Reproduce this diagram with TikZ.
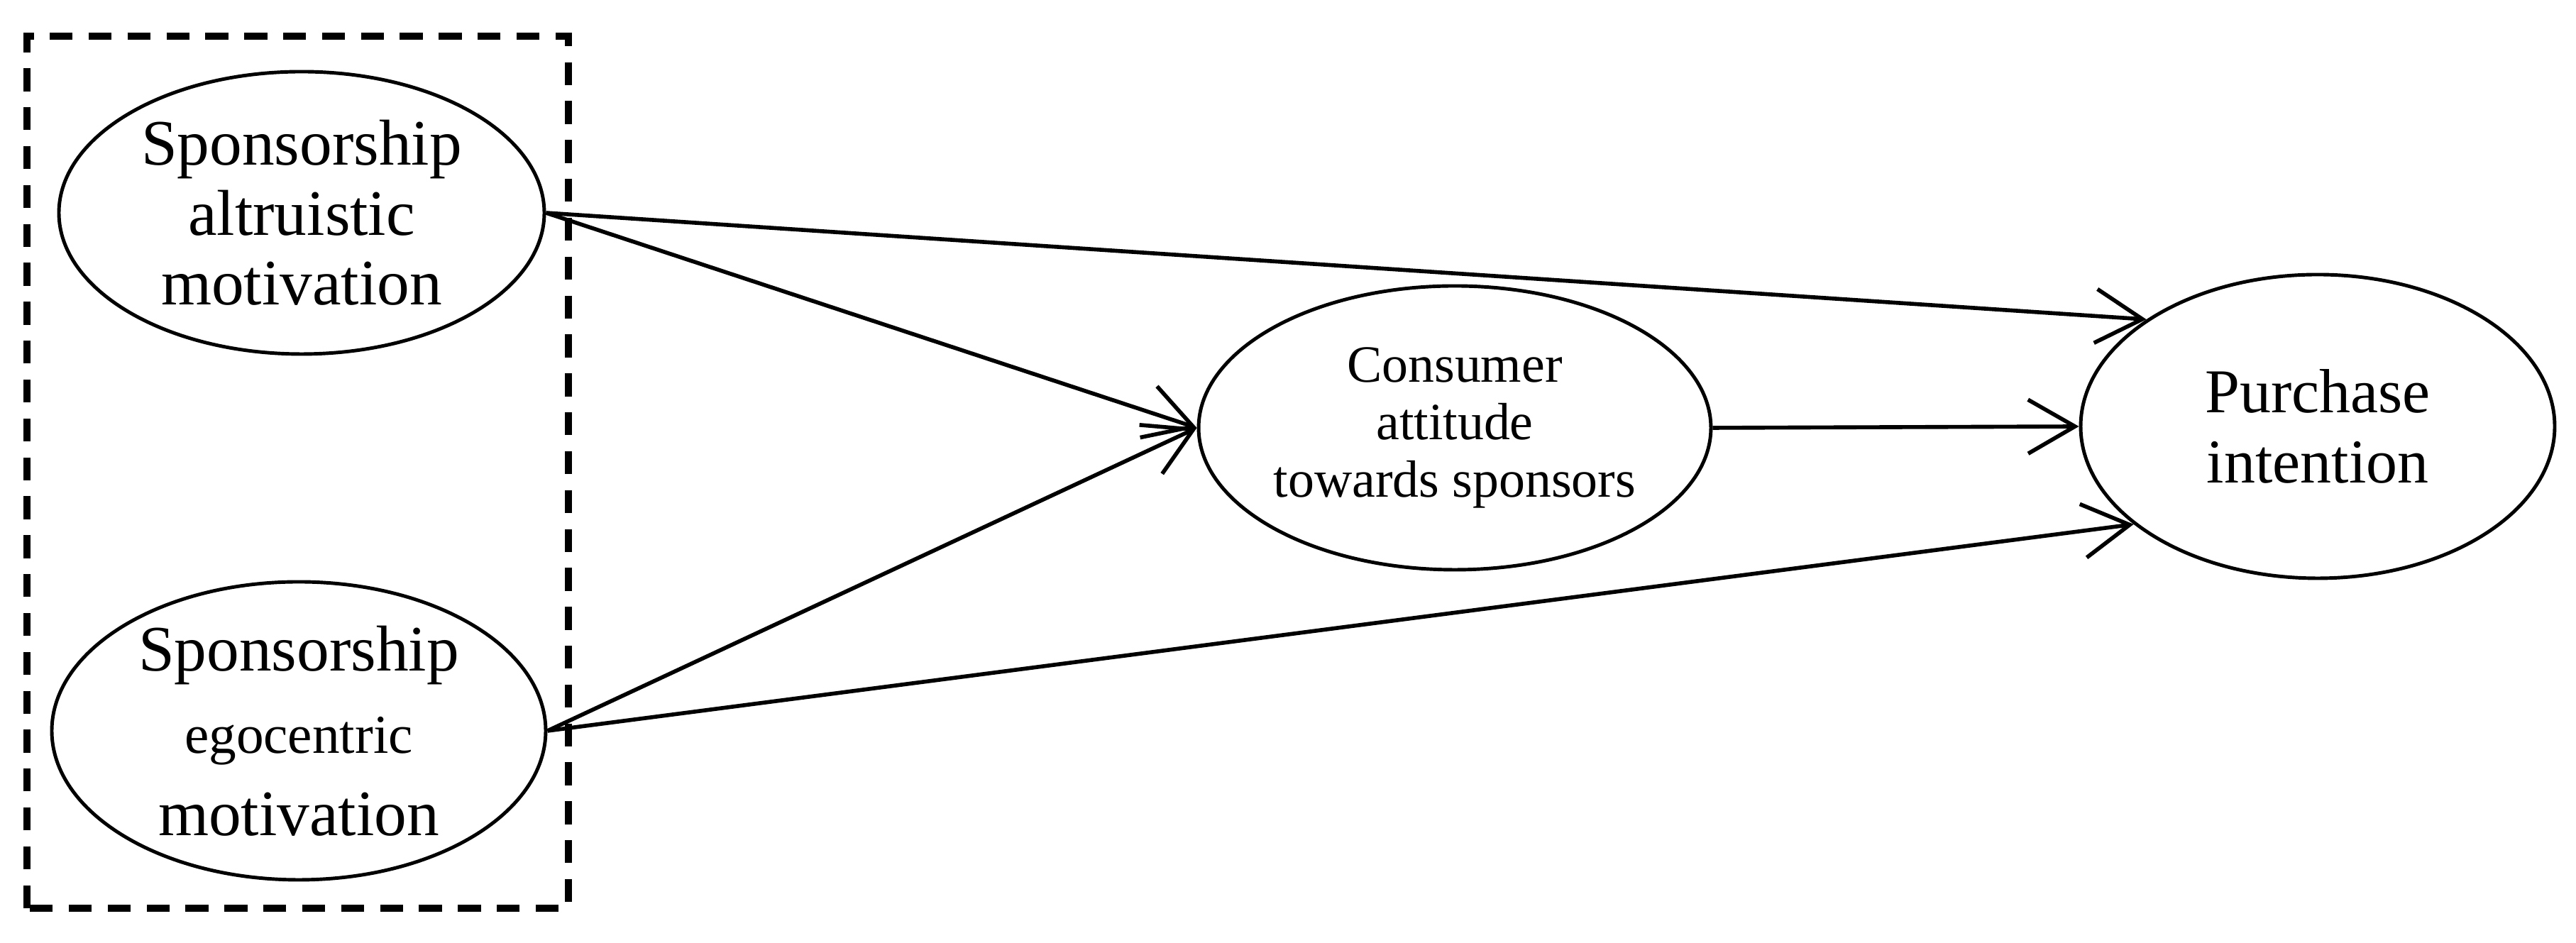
\documentclass[tikz,border=0pt]{standalone}
\usepackage{fontspec}
\setmainfont{Liberation Serif}
\usepackage{tikz}
\usetikzlibrary{shapes.geometric, arrows.meta, positioning}

\begin{document}
\begin{tikzpicture}[
    construct/.style={ellipse, draw, line width=0.7pt, inner sep=0pt, align=center},
    arrow/.style={-{Straight Barb[length=3.3mm, width=3.8mm, line width=0.8pt]}, line width=0.8pt},
    groupbox/.style={draw, line width=1.3pt, dash pattern=on 4.6pt off 3.2pt}
]
\useasboundingbox (0,0) rectangle (18.15,6.645);

% Motivations
\node[construct, minimum width=3.42cm, minimum height=1.99cm, font=\fontsize{13}{14}\selectfont] (altru) at (2.125,5.145) {Sponsorship\\altruistic\\motivation};
\node[construct, minimum width=3.48cm, minimum height=2.1cm, font=\fontsize{13}{16.5}\selectfont] (ego) at (2.105,1.495) {Sponsorship\\{\fontsize{11}{13}\selectfont egocentric}\\motivation};

% Group of motivations
\draw[groupbox] (0.19,0.245) rectangle (4.005,6.39);

% Mediator and outcome
\node[construct, minimum width=3.46cm, minimum height=2.0cm, font=\fontsize{10.5}{11.5}\selectfont] (attitude) at (10.25,3.63) {Consumer\\attitude\\towards sponsors};
\node[construct, minimum width=3.34cm, minimum height=2.14cm, font=\fontsize{12.5}{14.2}\selectfont] (purchase) at (16.33,3.64) {Purchase\\intention};

% Arrows
\draw[arrow] (altru.east) -- (attitude.west);
\draw[arrow] (ego.east) -- (attitude.west);
\draw[arrow] (altru.east) -- (purchase.148);
\draw[arrow] (ego.east) -- (purchase.208);
\draw[arrow] (attitude.east) -- (purchase.west);

\end{tikzpicture}
\end{document}
